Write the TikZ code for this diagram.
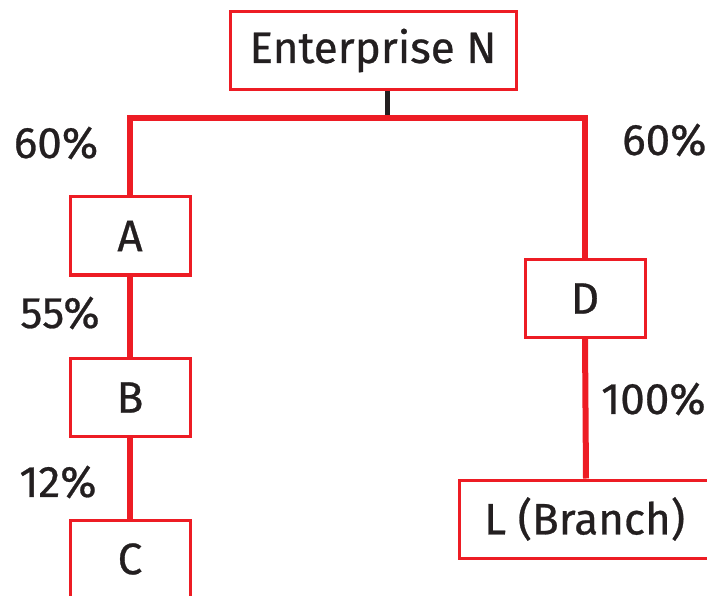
\documentclass[tikz,border=0pt]{standalone}
\usepackage{fontspec}
\setmainfont{Fira Sans}[FakeBold=0.6]
\definecolor{boxred}{RGB}{237,28,36}
\definecolor{txt}{RGB}{35,31,32}
\begin{document}
\begin{tikzpicture}[x=1pt,y=-1pt,
  box/.style={draw=boxred,line width=3pt,fill=white,rectangle,minimum height=78pt,inner sep=0pt,font=\fontsize{44}{48}\selectfont,text=txt},
  conn/.style={draw=boxred,line width=6pt},
  lbl/.style={font=\fontsize{44}{48}\selectfont,text=txt,inner sep=0pt}]
\useasboundingbox (0,0) rectangle (707,596);
\clip (0,0) rectangle (707,596);
\coordinate (jl) at (130,118);
\coordinate (jm) at (387,118);
\coordinate (jr) at (585,118);
\node[box,minimum width=286pt] (N) at (373,50.5) {Enterprise N};
\node[box,minimum width=120pt] (A) at (130,236) {A};
\node[box,minimum width=120pt] (B) at (130,397.5) {B};
\node[box,minimum width=120pt,text depth=0pt] (C) at (130,559) {};
\node[lbl] at (130,559) {C};
\node[box,minimum width=120pt] (D) at (585,298.5) {D};
\node[box,minimum width=254pt,text depth=0pt] (L) at (586,519) {};
\node[lbl,anchor=west] at (484,519) {L (Branch)};
\draw[line width=5pt,draw=txt] (N.south -| jm) -- (jm);
\draw[conn] (A.north) -- (jl) -- (jr) -- (D.north);
\draw[conn] (A.south) -- (B.north);
\draw[conn] (B.south) -- (C.north);
\draw[conn] (D.south) -- (L.north);
\node[lbl] (l1) at (56,143) {60\%};
\node[lbl,anchor=west] (l2) at (622,140) {60\%};
\node[lbl] (l3) at (60,313) {55\%};
\node[lbl] (l4) at (58,482) {12\%};
\node[lbl,anchor=west] (l5) at (601,399) {100\%};
\end{tikzpicture}
\end{document}
